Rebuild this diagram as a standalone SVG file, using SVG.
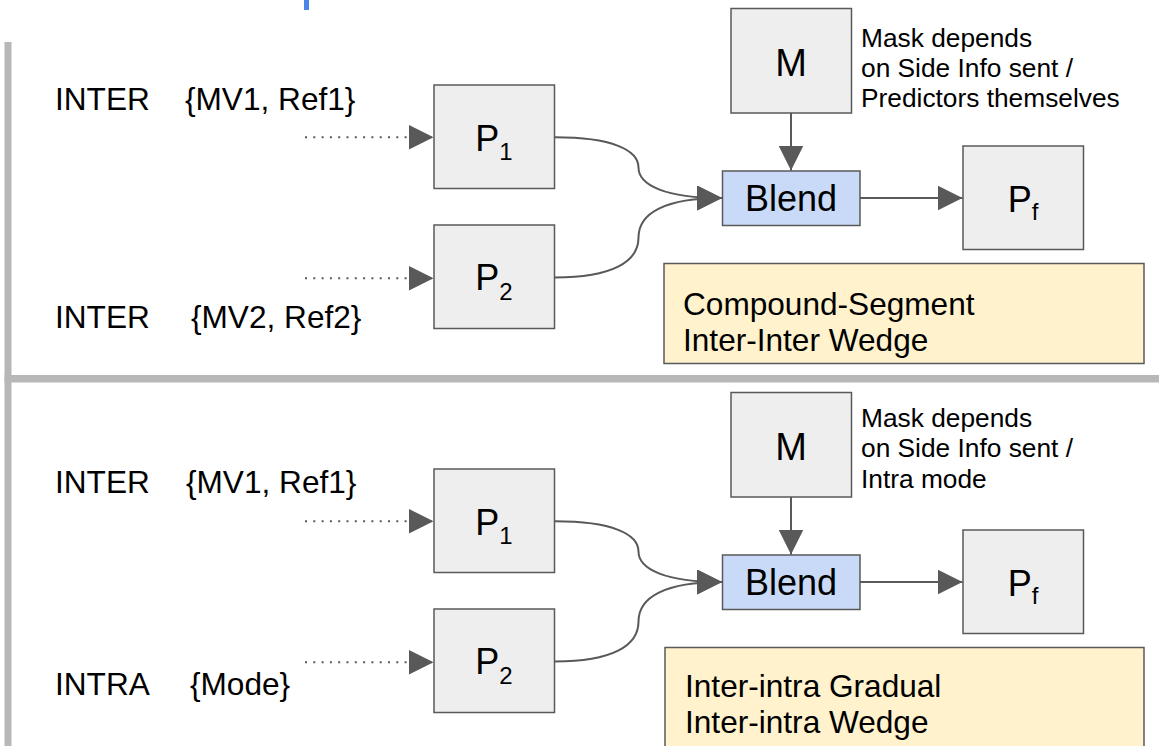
<svg xmlns="http://www.w3.org/2000/svg" width="1159" height="746" viewBox="0 0 1159 746">
  <style>
    text { font-family: "Liberation Sans", Arial, sans-serif; fill: #000; }
    .box { fill: #eeeeee; stroke: #595959; stroke-width: 1.5; }
    .blend { fill: #c9daf8; stroke: #595959; stroke-width: 1.5; }
    .note { fill: #fff2cc; stroke: #595959; stroke-width: 1.5; }
    .big { font-size: 36px; }
    .m { font-size: 38px; }
    .sub { font-size: 24px; }
    .lbl { font-size: 31.6px; }
    .mask { font-size: 26.3px; }
    .edge { fill: none; stroke: #595959; stroke-width: 2; }
    .dots { fill: none; stroke: #595959; stroke-width: 2; stroke-dasharray: 2 6.3; }
    .rule { fill: #b7b7b7; }
  </style>
  <defs>
    <marker id="arrow" markerUnits="userSpaceOnUse" markerWidth="26" markerHeight="26" refX="25" refY="12.5" orient="auto">
      <path d="M0,0 L25,12.5 L0,25 z" fill="#595959"/>
    </marker>
  </defs>

  <rect x="0" y="0" width="1159" height="746" fill="#ffffff"/>

  <!-- frame rules -->
  <rect class="rule" x="4.5" y="42" width="7" height="704"/>
  <rect class="rule" x="4.5" y="375" width="1154.5" height="7.5"/>
  <rect x="304" y="0" width="5" height="10" fill="#4a86e8"/>

  <!-- upper block: inter-inter -->
  <g id="top">
    <g id="top-src1">
      <text class="lbl" x="55" y="110">INTER</text>
      <text class="lbl" x="185" y="110">{MV1, Ref1}</text>
    </g>
    <g id="top-src2">
      <text class="lbl" x="55" y="328">INTER</text>
      <text class="lbl" x="191" y="328">{MV2, Ref2}</text>
    </g>
    <g id="top-p1">
      <rect class="box" x="434" y="85" width="120.5" height="103.5"/>
      <text class="big" x="494" y="151" text-anchor="middle">P<tspan class="sub" dy="9">1</tspan></text>
    </g>
    <g id="top-p2">
      <rect class="box" x="434" y="225" width="120.5" height="103.5"/>
      <text class="big" x="494" y="290" text-anchor="middle">P<tspan class="sub" dy="10">2</tspan></text>
    </g>
    <g id="top-m">
      <rect class="box" x="731" y="8.5" width="120.5" height="104.5"/>
      <text class="m" x="791" y="76" text-anchor="middle">M</text>
      <text class="mask" x="861" y="46.7">Mask depends</text>
      <text class="mask" x="861" y="76.7">on Side Info sent /</text>
      <text class="mask" x="861" y="107.3">Predictors themselves</text>
    </g>
    <g id="top-blend">
      <rect class="blend" x="722.5" y="171" width="137.5" height="54.5"/>
      <text class="big" x="791" y="211" text-anchor="middle">Blend</text>
    </g>
    <g id="top-pf">
      <rect class="box" x="963" y="146" width="120.5" height="103.5"/>
      <text class="big" x="1023" y="211.7" text-anchor="middle">P<tspan class="sub" dy="8.5">f</tspan></text>
    </g>
    <g id="top-note">
      <rect class="note" x="664" y="263.5" width="480" height="100"/>
      <text class="lbl" x="683" y="315">Compound-Segment</text>
      <text class="lbl" x="683" y="351">Inter-Inter Wedge</text>
    </g>
    <g id="top-connectors">
      <path class="dots" d="M305,137.3 L433.5,137.3" marker-end="url(#arrow)"/>
      <path class="dots" d="M305,278.3 L433.5,278.3" marker-end="url(#arrow)"/>
      <path class="edge" d="M555,137.3 C612,137.3 638.5,150 638.5,167.5 C638.5,185 665,198 722,198" marker-end="url(#arrow)"/>
      <path class="edge" d="M555,277.5 C612,277.5 638.5,262 638.5,237.5 C638.5,213 665,198 722,198" marker-end="url(#arrow)"/>
      <path class="edge" d="M791,113 L791,170.5" marker-end="url(#arrow)"/>
      <path class="edge" d="M860,198 L962.5,198" marker-end="url(#arrow)"/>
    </g>
  </g>

  <!-- lower block: inter-intra -->
  <g id="bottom" transform="translate(0,384)">
    <g id="bot-src1">
      <text class="lbl" x="55" y="109.3">INTER</text>
      <text class="lbl" x="186" y="109.3">{MV1, Ref1}</text>
    </g>
    <g id="bot-src2">
      <text class="lbl" x="55" y="311">INTRA</text>
      <text class="lbl" x="190" y="311">{Mode}</text>
    </g>
    <g id="bot-p1">
      <rect class="box" x="434" y="85" width="120.5" height="103.5"/>
      <text class="big" x="494" y="151" text-anchor="middle">P<tspan class="sub" dy="9">1</tspan></text>
    </g>
    <g id="bot-p2">
      <rect class="box" x="434" y="225" width="120.5" height="103.5"/>
      <text class="big" x="494" y="290" text-anchor="middle">P<tspan class="sub" dy="10">2</tspan></text>
    </g>
    <g id="bot-m">
      <rect class="box" x="731" y="8.5" width="120.5" height="104.5"/>
      <text class="m" x="791" y="76" text-anchor="middle">M</text>
      <text class="mask" x="861" y="42.7">Mask depends</text>
      <text class="mask" x="861" y="73.3">on Side Info sent /</text>
      <text class="mask" x="861" y="104.3">Intra mode</text>
    </g>
    <g id="bot-blend">
      <rect class="blend" x="722.5" y="171" width="137.5" height="54.5"/>
      <text class="big" x="791" y="211" text-anchor="middle">Blend</text>
    </g>
    <g id="bot-pf">
      <rect class="box" x="963" y="146" width="120.5" height="103.5"/>
      <text class="big" x="1023" y="211.7" text-anchor="middle">P<tspan class="sub" dy="8.5">f</tspan></text>
    </g>
    <g id="bot-note">
      <rect class="note" x="665" y="263.5" width="479" height="110"/>
      <text class="lbl" x="685" y="313.3">Inter-intra Gradual</text>
      <text class="lbl" x="685" y="349.3">Inter-intra Wedge</text>
    </g>
    <g id="bot-connectors">
      <path class="dots" d="M305,137.3 L433.5,137.3" marker-end="url(#arrow)"/>
      <path class="dots" d="M305,278.3 L433.5,278.3" marker-end="url(#arrow)"/>
      <path class="edge" d="M555,137.3 C612,137.3 638.5,150 638.5,167.5 C638.5,185 665,198 722,198" marker-end="url(#arrow)"/>
      <path class="edge" d="M555,277.5 C612,277.5 638.5,262 638.5,237.5 C638.5,213 665,198 722,198" marker-end="url(#arrow)"/>
      <path class="edge" d="M791,113 L791,170.5" marker-end="url(#arrow)"/>
      <path class="edge" d="M860,198 L962.5,198" marker-end="url(#arrow)"/>
    </g>
  </g>
</svg>
